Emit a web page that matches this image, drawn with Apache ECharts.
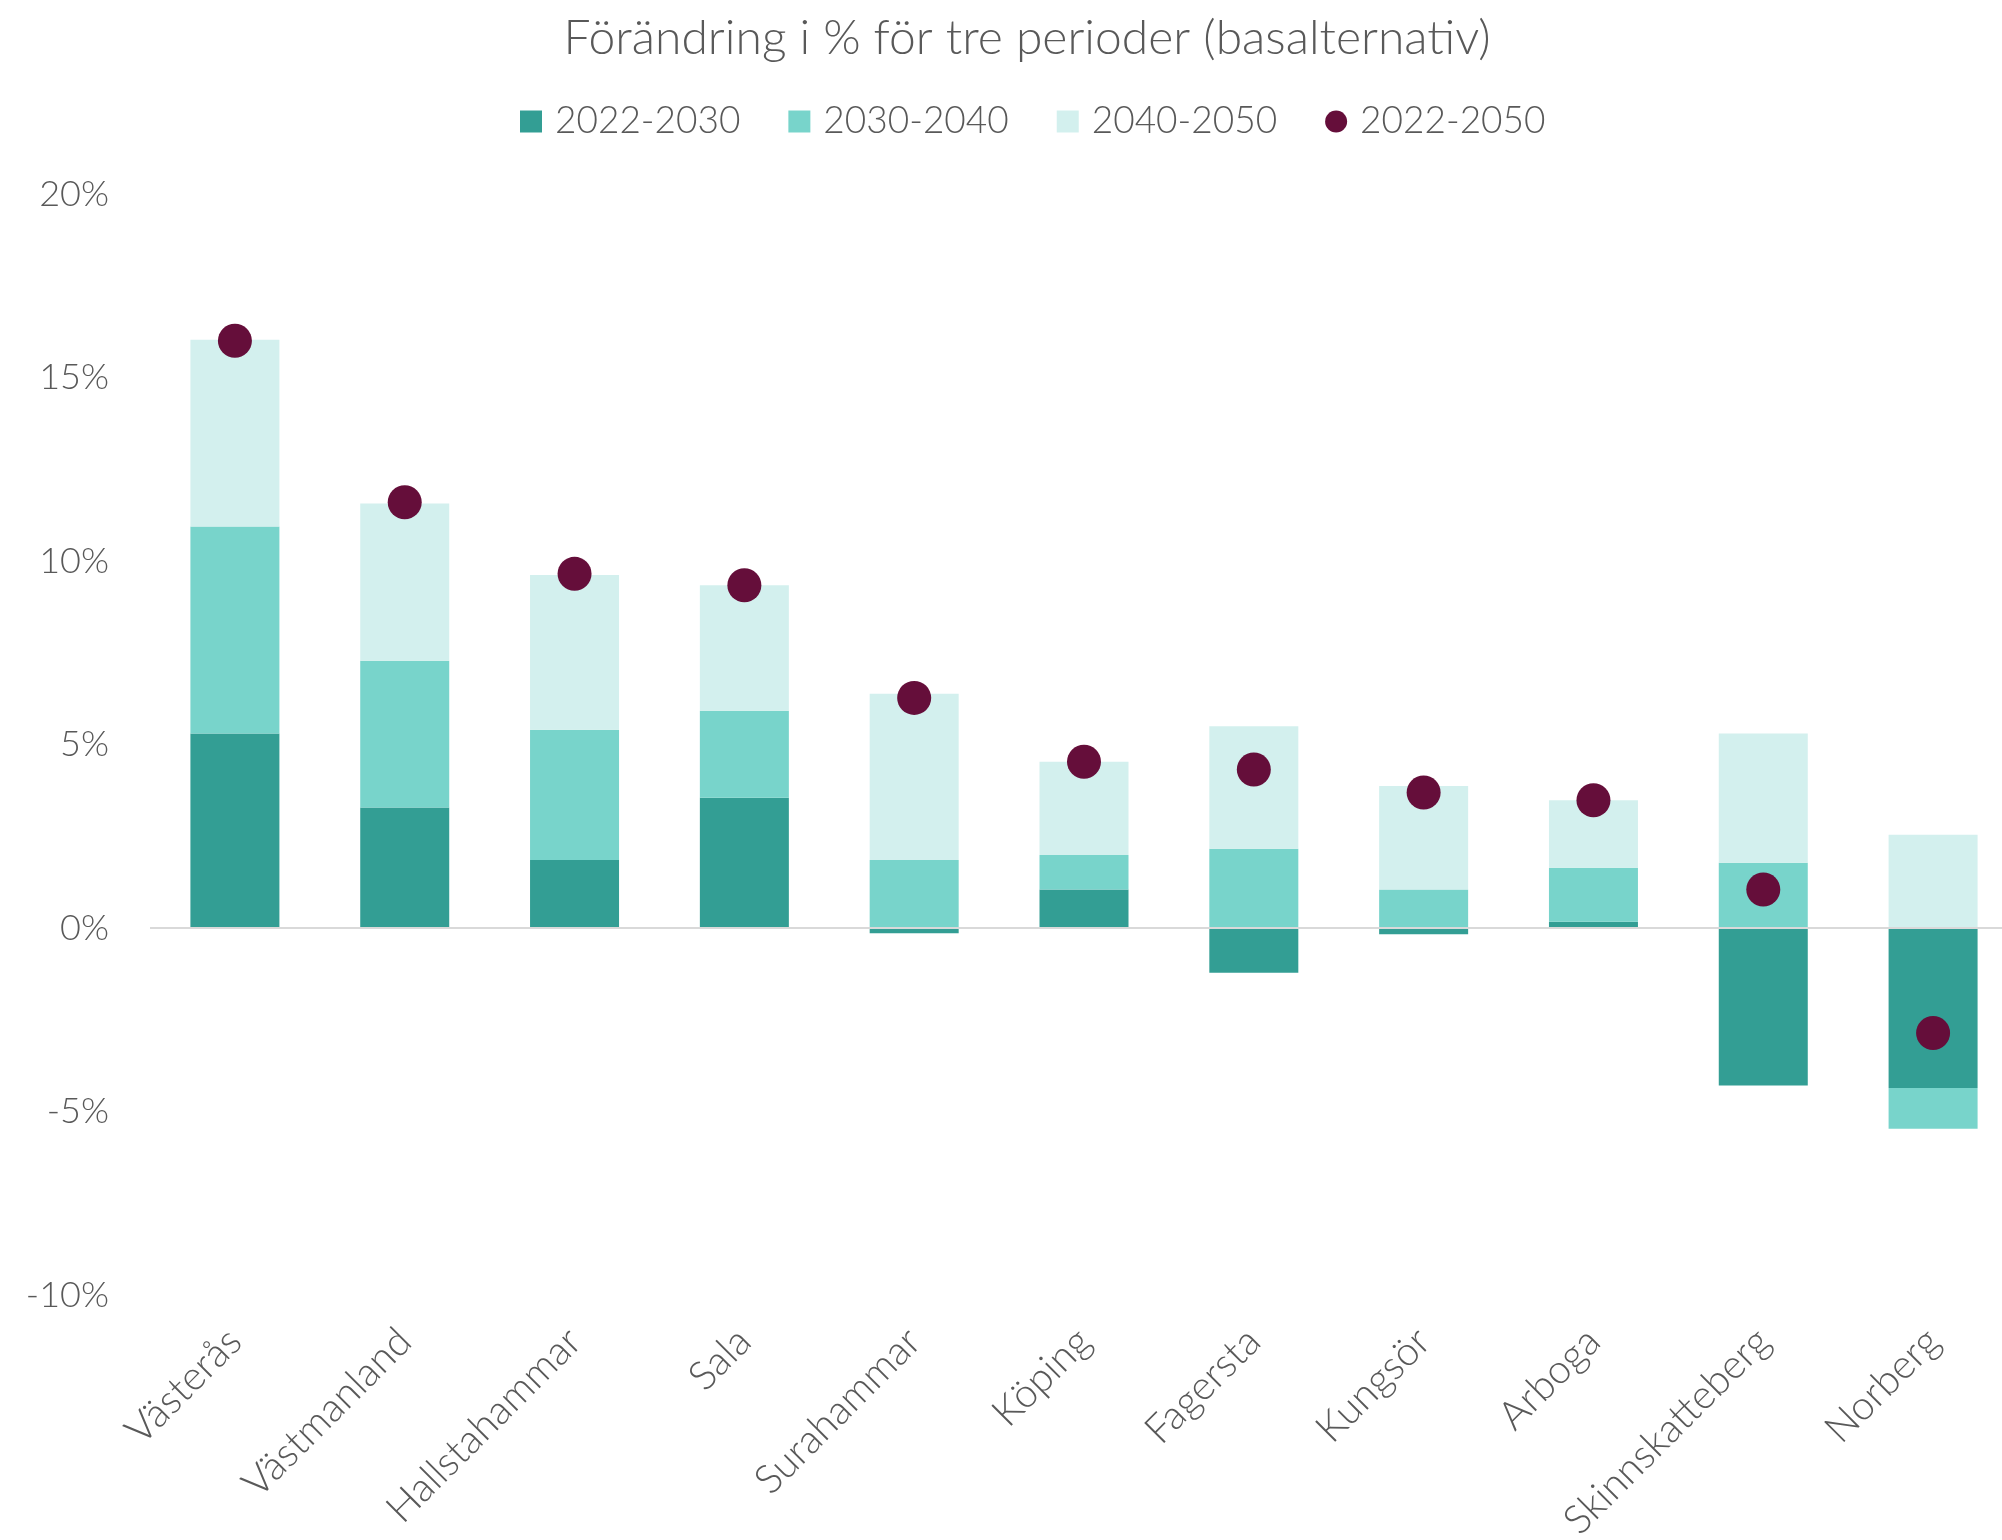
<!DOCTYPE html>
<html>
  <head>
    <meta charset="utf-8" />
    <title>Förändring i % för tre perioder</title>
    <script src="https://cdn.jsdelivr.net/npm/echarts@6/dist/echarts.min.js"></script>
  </head>
  <body style="margin:0;padding:0;">
    <div id="chart" style="width:2002px;height:1540px;"></div>
    <script type="text/javascript">
      // kommuner
      var categories = ['Västerås', 'Västmanland', 'Hallstahammar', 'Sala', 'Surahammar', 'Köping',
                        'Fagersta', 'Kungsör', 'Arboga', 'Skinnskatteberg', 'Norberg'];
      // förändring i procent per period
      var p2022_2030 = [5.30, 3.28, 1.85, 3.55, -0.14, 1.05, -1.22, -0.17, 0.17, -4.29, -4.36];
      var p2030_2040 = [5.64, 4.00, 3.55, 2.37, 1.85, 0.94, 2.16, 1.05, 1.47, 1.78, -1.11];
      var p2040_2050 = [5.09, 4.29, 4.22, 3.42, 4.53, 2.54, 3.34, 2.82, 1.84, 3.52, 2.54];
      var p2022_2050 = [16.0, 11.6, 9.65, 9.34, 6.27, 4.53, 4.32, 3.69, 3.48, 1.05, -2.86];

      var textColor = '#595959';
      var font = 'Lato';

      var chart = echarts.init(document.getElementById('chart'), null, { renderer: 'canvas' });

      chart.setOption({
        animation: false,
        textStyle: { fontFamily: font, color: textColor },
        title: {
          text: 'Förändring i % för tre perioder (basalternativ)',
          left: 1022,
          textAlign: 'center',
          top: 10,
          textStyle: { fontFamily: font, fontWeight: 300, fontSize: 48, color: textColor }
        },
        legend: {
          left: 515,
          top: 98,
          itemWidth: 22,
          itemHeight: 22,
          itemGap: 48,
          textStyle: { fontFamily: font, fontWeight: 300, fontSize: 37, color: textColor, padding: [0, 0, 0, 8] },
          data: [
            { name: '2022-2030', icon: 'rect' },
            { name: '2030-2040', icon: 'rect' },
            { name: '2040-2050', icon: 'rect' },
            { name: '2022-2050', icon: 'circle' }
          ]
        },
        grid: { left: 150, width: 1868, top: 194, bottom: 245, containLabel: false, outerBoundsMode: 'none' },
        xAxis: {
          type: 'category',
          data: categories,
          axisLine: { show: false, onZero: false },
          axisTick: { show: false },
          axisLabel: {
            rotate: 45,
            margin: 40,
            fontFamily: font,
            fontWeight: 300,
            fontSize: 40,
            color: textColor,
            interval: 0
          }
        },
        yAxis: {
          type: 'value',
          min: -10,
          max: 20,
          interval: 5,
          axisLine: { show: false },
          axisTick: { show: false },
          splitLine: { show: false },
          axisLabel: {
            formatter: '{value}%',
            margin: 41,
            fontFamily: font,
            fontWeight: 300,
            fontSize: 36,
            color: textColor
          }
        },
        series: [
          {
            name: '2022-2030',
            type: 'bar',
            stack: 'total',
            barWidth: 89,
            itemStyle: { color: '#339e94' },
            data: p2022_2030,
            markLine: {
              silent: true,
              symbol: ['none', 'none'],
              label: { show: false },
              lineStyle: { color: '#d9d9d9', width: 2, type: 'solid' },
              data: [{ yAxis: 0 }]
            }
          },
          {
            name: '2030-2040',
            type: 'bar',
            stack: 'total',
            barWidth: 89,
            itemStyle: { color: '#78d4cb' },
            data: p2030_2040
          },
          {
            name: '2040-2050',
            type: 'bar',
            stack: 'total',
            barWidth: 89,
            itemStyle: { color: '#d3f0ee' },
            data: p2040_2050
          },
          {
            name: '2022-2050',
            type: 'scatter',
            symbol: 'circle',
            symbolSize: 34,
            itemStyle: { color: '#650e3a', opacity: 1 },
            z: 5,
            data: p2022_2050
          }
        ]
      });
    </script>
  </body>
</html>
